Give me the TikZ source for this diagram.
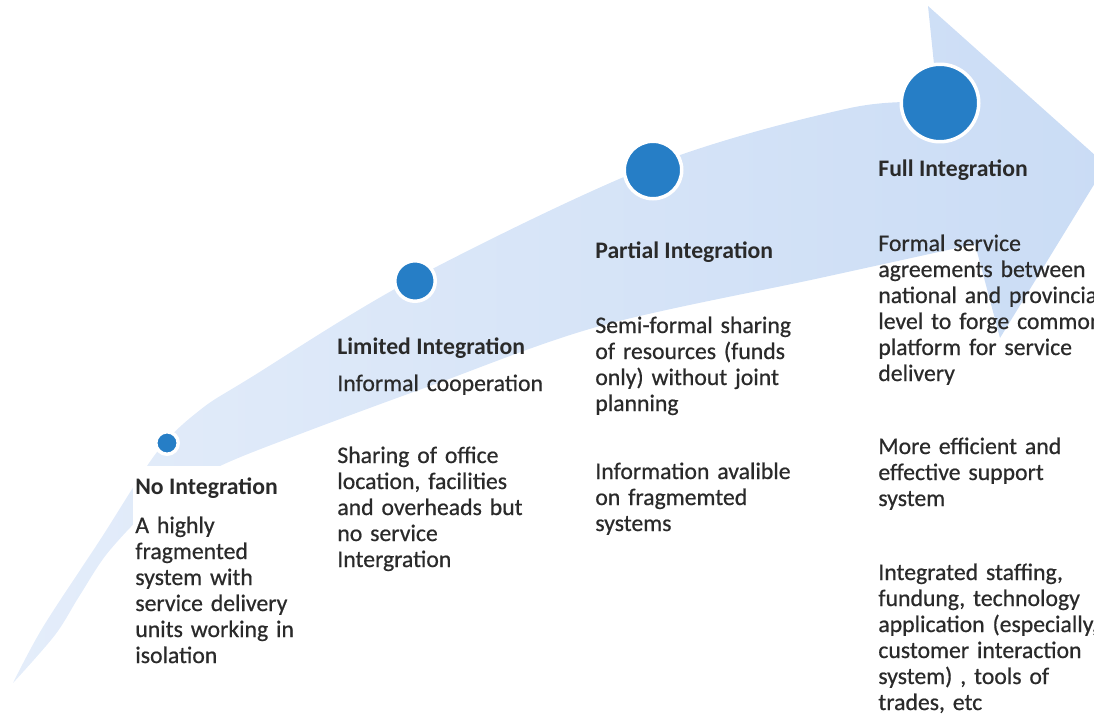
\documentclass[tikz,border=0pt]{standalone}
\usepackage{fontspec}
\setmainfont{Carlito}
\newfontfamily\notefont[FakeBold=0.6]{Carlito}
\usetikzlibrary{positioning}

\definecolor{bandlight}{RGB}{228,237,250}
\definecolor{banddark}{RGB}{202,220,245}
\definecolor{dotblue}{RGB}{38,126,198}
\definecolor{inkgray}{RGB}{42,42,42}

\begin{document}
\begin{tikzpicture}[
  x=0.02cm,y=-0.02cm,
  dot/.style={circle,fill=dotblue,draw=white,line width=0.07cm,inner sep=0pt},
  stage/.style={anchor=base west,inner sep=0pt,text=inkgray,font=\bfseries\fontsize{13.5}{14.8}\selectfont},
  note/.style={anchor=base west,inner sep=0pt,text=inkgray,align=left,text width=5cm,font=\notefont\fontsize{13.5}{14.8}\selectfont},
  whitebox/.style={fill=white,inner xsep=0.04cm,inner ysep=0.22cm}
]
\useasboundingbox (0,0) rectangle (1094,717);

% sweeping arrow behind everything
\shade[left color=bandlight,right color=banddark]
  plot[smooth,tension=0.55] coordinates{(13,683) (43,627) (100,540) (157,452) (200,410) (250,378) (415,278) (653,165) (850,108) (938,103)}
  -- (928,6) -- (1106,165) -- (1000,338) --
  plot[smooth,tension=0.55] coordinates{(975,244) (820,278) (600,326) (430,386) (300,434) (220,466) (160,500) (110,550) (80,595) (55,635) (13,683)}
  -- cycle;

% stage markers, growing along the arrow
\node[dot,minimum size=0.45cm] (d1) at (167,443) {};
\node[dot,minimum size=0.81cm] (d2) at (415,281) {};
\node[dot,minimum size=1.15cm] (d3) at (653,170) {};
\node[dot,minimum size=1.55cm] (d4) at (940,103) {};

% first stage sits in a white box that hides the tail
\node[stage,whitebox] (none) at (133,494) {No Integration};
\node[note,whitebox,text width=3.5cm] (none1) at (133,533) {A highly\\fragmented\\system with\\service delivery\\units working in\\isolation};

% other stage titles
\node[stage] (limited) at (337,354) {Limited Integration};
\node[stage] (partial) at (595,258) {Partial Integration};
\node[stage] (full) at (878,176) {Full Integration};

% descriptions
\node[note] (limited1) at (337,391) {Informal cooperation};
\node[note] (limited2) at (337,463) {Sharing of office\\location, facilities\\and overheads but\\no service\\Intergration};
\node[note] (partial1) at (595,333) {Semi-formal sharing\\of resources (funds\\only) without joint\\planning};
\node[note] (partial2) at (595,479) {Information avalible\\on fragmemted\\systems};
\node[note] (full1) at (878,251) {Formal service\\agreements between\\national and provincial\\level to forge common\\platform for service\\delivery};
\node[note] (full2) at (878,454) {More efficient and\\effective support\\system};
\node[note] (full3) at (878,580) {Integrated staffing,\\fundung, technology\\application (especially,\\customer interaction\\system) , tools of\\trades, etc};
\end{tikzpicture}
\end{document}
